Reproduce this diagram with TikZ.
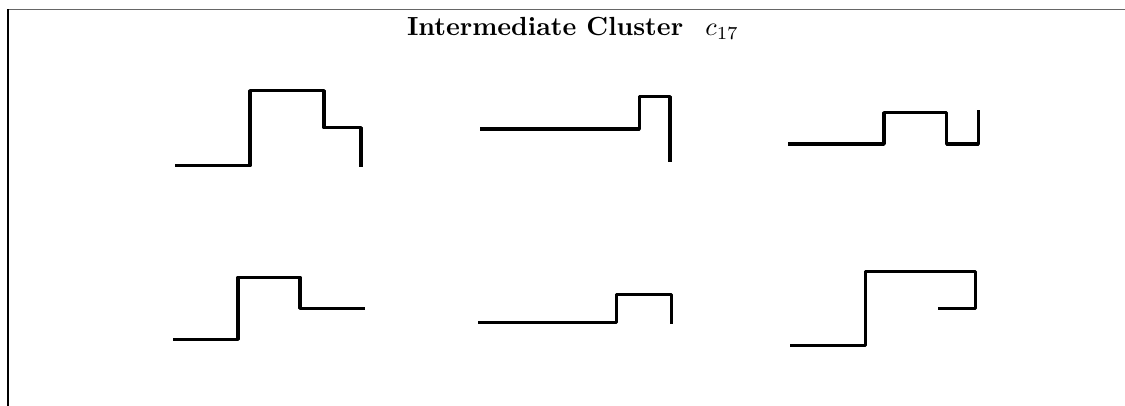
\documentclass[tikz,border=0pt]{standalone}
\begin{document}
\begin{tikzpicture}[x=0.3817pt,y=-0.3817pt,
  seq/.style={line width=1.3pt,line join=round,line cap=butt,black},
  frame/.style={line width=0.4pt}]
\useasboundingbox (0,0) rectangle (1125,406);
\draw[frame,black!60] (8,9.5) -- (1125,9.5);
\draw[frame,black] (8,9.5) -- (8,406);
\node[anchor=base west,inner sep=0pt] (title) at (406.5,35.5) {\textbf{Intermediate Cluster}\hspace{0.85em}$c_{17}$};
% top row
\draw[seq] (175,165.7) -- (250,165.7) -- (250,90.7) -- (324,90.7) -- (324,127.7) -- (361,127.7) -- (361,167);
\draw[seq] (480,129) -- (639.3,129) -- (639.3,96.7) -- (670,96.7) -- (670,161.7);
\draw[seq] (788.3,144) -- (884,144) -- (884,112.7) -- (946.7,112.7) -- (946.7,144) -- (978.3,144) -- (978.3,110.5);
% bottom row
\draw[seq] (173,339.3) -- (238,339.3) -- (238,277.3) -- (300,277.3) -- (300,308.3) -- (365,308.3);
\draw[seq] (478.3,322.3) -- (616.7,322.3) -- (616.7,294.3) -- (671.7,294.3) -- (671.7,324);
\draw[seq] (790,345.7) -- (865.7,345.7) -- (865.7,271.7) -- (975.7,271.7) -- (975.7,308.3) -- (937.7,308.3);
\end{tikzpicture}
\end{document}
